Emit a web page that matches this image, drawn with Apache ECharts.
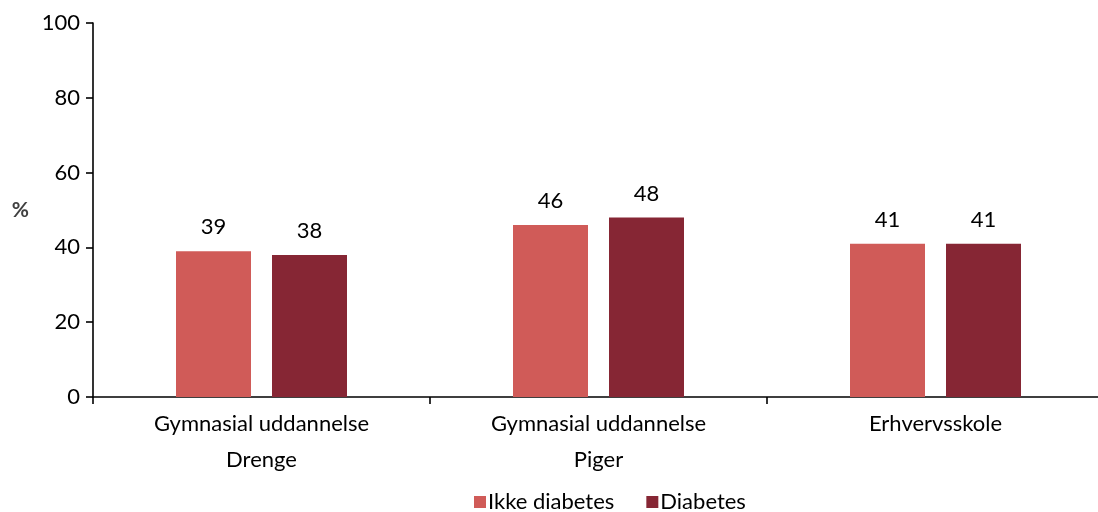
<!DOCTYPE html>
<html>
<head>
<meta charset="utf-8">
<script src="https://cdn.jsdelivr.net/npm/echarts@6/dist/echarts.min.js"></script>
<style>
  html, body { margin: 0; padding: 0; background: #fff; overflow: hidden; }
  #chart { width: 1104px; height: 512px; }
</style>
</head>
<body>
<div id="chart"></div>
<script>
// Groups along the x axis
const categories = ['Gymnasial uddannelse\nDrenge', 'Gymnasial uddannelse\nPiger', 'Erhvervsskole'];
// Share in percent per group
const ikkeDiabetes = [39, 46, 41];
const diabetes = [38, 48, 41];
const seriesNames = ['Ikke diabetes', 'Diabetes'];
const yTicks = [0, 20, 40, 60, 80, 100];

const FONT = 'Lato, "Open Sans", sans-serif';
const FS = 22;
const chart = echarts.init(document.getElementById('chart'));

const valueLabel = {
  show: true,
  position: 'top',
  distance: 13,
  color: '#000',
  fontSize: FS,
  fontFamily: FONT
};

chart.setOption({
  animation: false,
  textStyle: { fontFamily: FONT },
  grid: { left: 93, right: 0, top: 23, bottom: 115 },
  legend: {
    data: seriesNames,
    left: 469,
    top: 486,
    itemWidth: 12,
    itemHeight: 12,
    itemGap: 32,
    icon: 'rect',
    textStyle: { fontSize: FS, color: '#000', fontFamily: FONT, padding: [0, 0, 0, -3] }
  },
  xAxis: {
    type: 'category',
    data: categories,
    axisLine: { lineStyle: { color: '#000', width: 1.6 } },
    axisTick: { show: true, length: 7, lineStyle: { color: '#000', width: 1.6 } },
    axisLabel: { color: '#000', fontSize: FS, lineHeight: 36, margin: 9, fontFamily: FONT }
  },
  yAxis: {
    type: 'value',
    min: yTicks[0],
    max: yTicks[yTicks.length - 1],
    interval: yTicks[1] - yTicks[0],
    name: '%',
    nameLocation: 'middle',
    nameRotate: 0,
    nameGap: 64,
    nameTextStyle: { color: '#404040', fontSize: 21, fontWeight: 'bold', fontFamily: FONT },
    splitLine: { show: false },
    axisLine: { show: true, lineStyle: { color: '#000', width: 1.6 } },
    axisTick: { show: true, length: 7, lineStyle: { color: '#000', width: 1.6 } },
    axisLabel: { color: '#000', fontSize: FS, margin: 13, fontFamily: FONT }
  },
  series: [
    {
      name: seriesNames[0],
      type: 'bar',
      data: ikkeDiabetes,
      barWidth: 75,
      barGap: '28%',
      itemStyle: { color: '#D05B58' },
      label: valueLabel
    },
    {
      name: seriesNames[1],
      type: 'bar',
      data: diabetes,
      barWidth: 75,
      barGap: '28%',
      itemStyle: { color: '#862634' },
      label: valueLabel
    }
  ]
});
</script>
</body>
</html>
